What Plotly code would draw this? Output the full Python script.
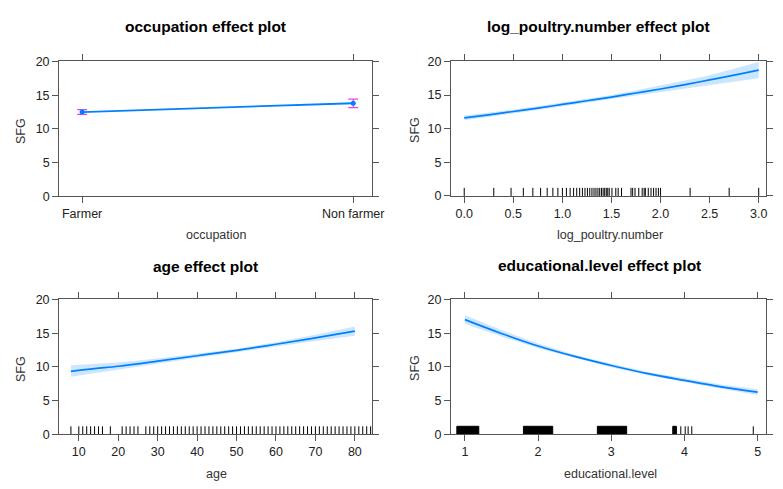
import plotly.graph_objects as go

# ---------------- data ----------------
occupation = ["Farmer", "Non farmer"]
occ_fit = [12.5, 13.8]
occ_lower = [12.15, 13.15]
occ_upper = [12.85, 14.4]

poultry_x = [0.0, 0.25, 0.5, 0.75, 1.0, 1.25, 1.5, 1.75, 2.0, 2.25, 2.5, 2.75, 3.0]
poultry_fit = [11.6, 12.05, 12.55, 13.05, 13.6, 14.15, 14.7, 15.3, 15.9, 16.55, 17.25, 17.95, 18.7]
poultry_lower = [11.25, 11.75, 12.25, 12.75, 13.3, 13.85, 14.4, 14.9, 15.4, 15.95, 16.5, 17.0, 17.5]
poultry_upper = [11.95, 12.35, 12.85, 13.35, 13.9, 14.45, 15.0, 15.7, 16.4, 17.15, 17.95, 18.9, 19.9]
poultry_rug = [0.0, 0.301, 0.477, 0.602, 0.699, 0.778, 0.845, 0.903, 0.954, 1.0,
               1.041, 1.079, 1.114, 1.146, 1.176, 1.204, 1.23, 1.255, 1.279, 1.301,
               1.322, 1.342, 1.362, 1.38, 1.398, 1.415, 1.431, 1.447, 1.462, 1.477,
               1.505, 1.544, 1.568, 1.602, 1.699, 1.716, 1.74, 1.778, 1.813, 1.833,
               1.845, 1.875, 1.903, 1.929, 1.954, 1.978, 2.0, 2.301, 2.699, 3.0]

age_x = [8, 14, 20, 30, 40, 50, 60, 70, 80]
age_fit = [9.35, 9.75, 10.1, 10.85, 11.65, 12.45, 13.35, 14.3, 15.3]
age_lower = [8.55, 9.1, 9.6, 10.45, 11.35, 12.2, 13.05, 13.85, 14.6]
age_upper = [10.25, 10.45, 10.65, 11.25, 11.95, 12.7, 13.65, 14.75, 16.0]
age_rug = [8, 10, 11, 12, 13, 14, 15, 16, 18, 21, 22, 23, 24, 25, 27, 28, 29, 30,
           31, 32, 33, 34, 35, 36, 37, 38, 39, 40, 41, 42, 43, 44, 45, 46, 47, 48,
           49, 50, 51, 52, 53, 54, 55, 56, 57, 58, 59, 60, 61, 62, 63, 64, 65, 66,
           67, 68, 69, 70, 71, 72, 73, 74, 75, 76, 77, 78, 79, 80, 81, 82, 83, 84]

edu_x = [1.0, 1.5, 2.0, 2.5, 3.0, 3.5, 4.0, 4.5, 5.0]
edu_fit = [17.0, 14.95, 13.1, 11.55, 10.2, 9.0, 8.0, 7.05, 6.25]
edu_lower = [16.4, 14.5, 12.75, 11.3, 9.95, 8.75, 7.7, 6.75, 5.85]
edu_upper = [17.65, 15.45, 13.45, 11.8, 10.45, 9.25, 8.3, 7.4, 6.7]
edu_rug_blocks = [(0.89, 1.19), (1.80, 2.20), (2.81, 3.21), (3.84, 3.89)]
edu_rug_ticks = [3.95, 4.01, 4.05, 4.10, 4.94]

y_ticks = [0, 5, 10, 15, 20]
titles = ["occupation effect plot", "log_poultry.number effect plot",
          "age effect plot", "educational.level effect plot"]
xlabels = ["occupation", "log_poultry.number", "age", "educational.level"]
ylabel = "SFG"

# ---------------- style ----------------
W, H = 783, 489
LINE = "#0080ff"
BAND = "rgba(0,128,255,0.20)"
ERR = "#e845e0"
AX = "#555555"
FONT = "Liberation Sans, Arial, sans-serif"
RUG_H = 1.2

boxes = {  # pixel boxes: left, right, top, bottom
    1: (60, 378, 56, 195),
    2: (458, 778, 56, 194.5),
    3: (60, 378, 301, 440),
    4: (458, 778, 301, 440),
}

fig = go.Figure()


def band(xs, lo, hi, ax):
    fig.add_trace(go.Scatter(x=list(xs) + list(xs)[::-1], y=list(hi) + list(lo)[::-1],
                             fill="toself", fillcolor=BAND, line=dict(width=0),
                             mode="lines", hoverinfo="skip", showlegend=False,
                             xaxis="x" + ax, yaxis="y" + ax))


def curve(xs, ys, ax):
    fig.add_trace(go.Scatter(x=xs, y=ys, mode="lines", line=dict(color=LINE, width=1.7, shape="spline"),
                             showlegend=False, xaxis="x" + ax, yaxis="y" + ax))


def rug(vals, ax):
    xs, ys = [], []
    for v in vals:
        xs += [v, v, None]
        ys += [0, RUG_H, None]
    fig.add_trace(go.Scatter(x=xs, y=ys, mode="lines", line=dict(color="black", width=1),
                             hoverinfo="skip", showlegend=False, xaxis="x" + ax, yaxis="y" + ax))


# Panel 1: occupation
fig.add_trace(go.Scatter(
    x=occupation, y=occ_fit, mode="lines+markers",
    line=dict(color=LINE, width=1.8),
    marker=dict(color=LINE, size=5, symbol="circle"),
    error_y=dict(type="data", symmetric=False,
                 array=[u - f for u, f in zip(occ_upper, occ_fit)],
                 arrayminus=[f - l for l, f in zip(occ_lower, occ_fit)],
                 color=ERR, thickness=1.2, width=5),
    showlegend=False, xaxis="x", yaxis="y"))

# Panel 2: poultry
band(poultry_x, poultry_lower, poultry_upper, "2")
curve(poultry_x, poultry_fit, "2")
rug(poultry_rug, "2")

# Panel 3: age
band(age_x, age_lower, age_upper, "3")
curve(age_x, age_fit, "3")
rug(age_rug, "3")

# Panel 4: education
band(edu_x, edu_lower, edu_upper, "4")
curve(edu_x, edu_fit, "4")
for a, b in edu_rug_blocks:
    fig.add_trace(go.Scatter(x=[a, b, b, a, a], y=[0, 0, RUG_H, RUG_H, 0], mode="lines",
                             fill="toself", fillcolor="black", line=dict(color="black", width=1),
                             hoverinfo="skip", showlegend=False, xaxis="x4", yaxis="y4"))
rug(edu_rug_ticks, "4")

axis_common = dict(showline=True, linecolor=AX, linewidth=1, mirror="ticks",
                   ticks="outside", ticklen=6, tickwidth=1, tickcolor=AX,
                   showgrid=False, zeroline=False,
                   tickfont=dict(family=FONT, size=12.5, color="#222222"))

xranges = {1: [-0.085, 1.07], 2: [-0.135, 3.075], 3: [5, 84.4], 4: [0.81, 5.115]}
xticks = {2: ([0, 0.5, 1, 1.5, 2, 2.5, 3], ["0.0", "0.5", "1.0", "1.5", "2.0", "2.5", "3.0"]),
          3: ([10, 20, 30, 40, 50, 60, 70, 80], None),
          4: ([1, 2, 3, 4, 5], None)}

layout = dict(width=W, height=H, margin=dict(l=0, r=0, t=0, b=0),
              plot_bgcolor="white", paper_bgcolor="white", showlegend=False)

for i in range(1, 5):
    l, r, t, b = boxes[i]
    sfx = "" if i == 1 else str(i)
    xa = dict(axis_common, domain=[l / W, r / W], anchor="y" + sfx, range=xranges[i])
    if i == 1:
        xa.update(type="category")
    else:
        xa.update(tickmode="array", tickvals=xticks[i][0])
        if xticks[i][1]:
            xa.update(ticktext=xticks[i][1])
    ya = dict(axis_common, domain=[1 - b / H, 1 - t / H], anchor="x" + sfx, range=[0, 20],
              tickmode="array", tickvals=y_ticks)
    layout["xaxis" + sfx] = xa
    layout["yaxis" + sfx] = ya

fig.update_layout(**layout)

ann = []
title_pos = [(209, 20), (608, 20), (209, 267), (609, 266)]
xlab_pos = [(220, 235), (620, 235), (220, 481), (620, 481)]
ylab_pos = [(22, 128), (422, 127), (22, 373), (422, 372)]
for i in range(4):
    tx, ty = title_pos[i]
    ann.append(dict(text="<b>" + titles[i] + "</b>", x=tx / W, y=1 - ty / H, xref="paper", yref="paper",
                    showarrow=False, xanchor="center", yanchor="middle",
                    font=dict(family=FONT, size=15.5, color="#000000")))
    lx, ly = xlab_pos[i]
    ann.append(dict(text=xlabels[i], x=lx / W, y=1 - ly / H, xref="paper", yref="paper",
                    showarrow=False, xanchor="center", yanchor="middle",
                    font=dict(family=FONT, size=12.5, color="#333333")))
    yx, yy = ylab_pos[i]
    ann.append(dict(text=ylabel, x=yx / W, y=1 - yy / H, xref="paper", yref="paper",
                    showarrow=False, xanchor="center", yanchor="middle", textangle=-90,
                    font=dict(family=FONT, size=12.5, color="#333333")))
fig.update_layout(annotations=ann)

fig.write_html("out.html", config={"displayModeBar": False},
               post_script="document.body.style.margin='0px';document.body.style.overflow='hidden';")
